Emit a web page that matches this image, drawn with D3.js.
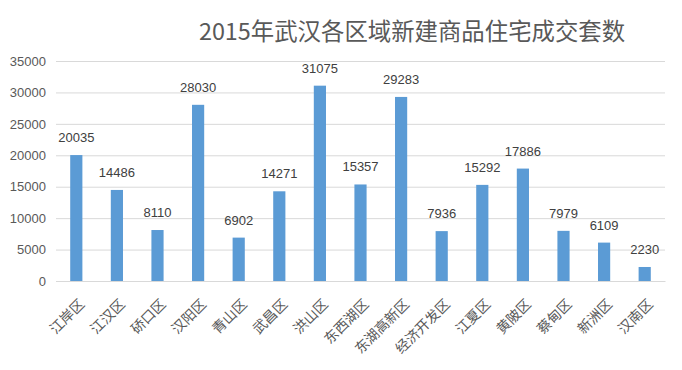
<!DOCTYPE html>
<html><head><meta charset="utf-8">
<script src="https://cdn.jsdelivr.net/npm/d3@7"></script>
<style>body{margin:0;background:#fff}</style>
</head><body>
<svg id="c" width="682" height="370"></svg>
<script>
const categories = ["江岸区","江汉区","硚口区","汉阳区","青山区","武昌区","洪山区","东西湖区","东湖高新区","经济开发区","江夏区","黄陂区","蔡甸区","新洲区","汉南区"];
const values = [20035,14486,8110,28030,6902,14271,31075,15357,29283,7936,15292,17886,7979,6109,2230];
const yTicks = [0,5000,10000,15000,20000,25000,30000,35000];
const title = "2015年武汉各区域新建商品住宅成交套数";

const svg = d3.select("#c");
const m = {l:56, r:665, t:61, b:281};
const x = d3.scaleBand().domain(categories).range([m.l, m.r]).paddingInner(0.7).paddingOuter(0.35);
const y = d3.scaleLinear().domain([0,35000]).range([m.b, m.t]);

svg.append("text").attr("x",412).attr("y",40).attr("text-anchor","middle")
  .attr("font-family","'Noto Sans CJK SC'").attr("font-size",23.4).attr("fill","#595959").text(title);

const ya = svg.append("g").attr("transform",`translate(${m.l},0)`)
  .call(d3.axisLeft(y).tickValues(yTicks).tickSize(-(m.r-m.l)).tickFormat(d=>d));
ya.select(".domain").remove();
ya.selectAll("line").attr("stroke","#D9D9D9");
ya.selectAll("text").attr("x",-10).attr("font-family","'Liberation Sans'").attr("font-size",13).attr("fill","#595959");

svg.selectAll("rect.bar").data(values).enter().append("rect")
  .attr("x",(d,i)=>x(categories[i])).attr("width",x.bandwidth())
  .attr("y",d=>y(d)).attr("height",d=>y(0)-y(d)).attr("fill","#5B9BD5");

svg.selectAll("text.lbl").data(values).enter().append("text")
  .attr("x",(d,i)=>x(categories[i])+x.bandwidth()/2).attr("y",d=>y(d)-13)
  .attr("text-anchor","middle").attr("font-family","'Liberation Sans'").attr("font-size",13).attr("fill","#404040").text(d=>d);

const xa = svg.append("g").attr("transform",`translate(0,${m.b})`)
  .call(d3.axisBottom(x).tickSize(0));
xa.select(".domain").attr("stroke","#D9D9D9");
xa.selectAll("text").attr("font-family","'Noto Sans CJK SC'").attr("font-size",14).attr("fill","#595959")
  .attr("text-anchor","end").attr("dx",0).attr("dy",0)
  .attr("transform","translate(7,22) rotate(-45)");
</script>
</body></html>
